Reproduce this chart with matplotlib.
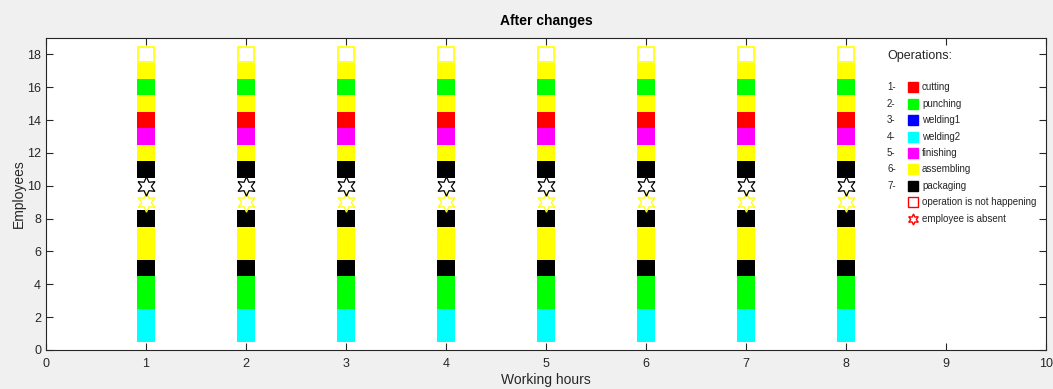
import matplotlib
matplotlib.use("Agg")
import matplotlib.pyplot as plt
import numpy as np

plt.rcParams['font.family'] = ['Liberation Sans', 'DejaVu Sans']

hours = [1, 2, 3, 4, 5, 6, 7, 8]
employees = list(range(1, 19))
# operation index (1..7) per employee, bottom to top
operation = [4, 4, 2, 2, 7, 6, 6, 7, 6, 7, 7, 6, 5, 1, 6, 2, 6, 6]
# status: 0 = working, 1 = absent, 2 = operation not happening
status = [0, 0, 0, 0, 0, 0, 0, 0, 1, 1, 0, 0, 0, 0, 0, 0, 0, 2]

op_names = ['cutting', 'punching', 'welding1', 'welding2', 'finishing', 'assembling', 'packaging']
op_colors = ['#ff0000', '#00ff00', '#0000ff', '#00ffff', '#ff00ff', '#ffff00', '#000000']

W, H = 1053, 389
fig = plt.figure(figsize=(W / 100, H / 100), dpi=100, facecolor='#f0f0f0')
ax = fig.add_axes([46 / W, 1 - 350 / H, 1000 / W, 312 / H])
ax.set_facecolor('white')

bw = 0.18
for h in hours:
    for e, op, st in zip(employees, operation, status):
        c = op_colors[op - 1]
        if st == 0:
            ax.bar(h, 1.0, bottom=e - 0.5, width=bw, color=c, edgecolor='none', zorder=2)
        elif st == 2:
            ax.bar(h, 0.9, bottom=e - 0.45, width=bw * 0.85, facecolor='none', edgecolor=c,
                   linewidth=1.2, zorder=2)
        else:
            ax.plot(h, e, marker=(6, 1, 0), markersize=14, markerfacecolor='none',
                    markeredgecolor=c, markeredgewidth=0.9, linestyle='none', zorder=3)

# legend drawn as text
tc = '#262626'
ax.text(8.41, 17.9, 'Operations:', fontsize=9, va='center', ha='left', color=tc)
for i, (name, col) in enumerate(zip(op_names, op_colors)):
    y = 16 - i
    ax.text(8.41, y, f'{i + 1}-', fontsize=7, va='center', ha='left', color=tc)
    ax.plot(8.67, y, marker='s', markersize=7, color=col, linestyle='none')
    ax.text(8.76, y, name, fontsize=7, va='center', ha='left', color=tc)
ax.plot(8.67, 9, marker='s', markersize=6.5, markerfacecolor='none', markeredgecolor='#ff0000',
        markeredgewidth=1.0, linestyle='none')
ax.text(8.76, 9, 'operation is not happening', fontsize=7, va='center', ha='left', color=tc)
ax.plot(8.67, 8, marker=(6, 1, 0), markersize=8, markerfacecolor='none', markeredgecolor='#ff0000',
        markeredgewidth=1.0, linestyle='none')
ax.text(8.76, 8, 'employee is absent', fontsize=7, va='center', ha='left', color=tc)

ax.set_xlim(0, 10)
ax.set_ylim(0, 19)
ax.set_xticks(range(0, 11))
ax.set_yticks(range(0, 19, 2))
ax.tick_params(direction='in', top=True, right=True, length=5, colors=tc,
               labelsize=9, width=0.8)
ax.tick_params(axis='x', pad=6)
for s in ax.spines.values():
    s.set_color(tc)
    s.set_linewidth(0.8)

ax.set_title('After changes', fontsize=10, fontweight='bold', color='black', pad=9)
ax.set_xlabel('Working hours', fontsize=10, color=tc, labelpad=2)
ax.set_ylabel('Employees', fontsize=10, color=tc, labelpad=1)

fig.savefig('out.png', dpi=100, facecolor=fig.get_facecolor())
